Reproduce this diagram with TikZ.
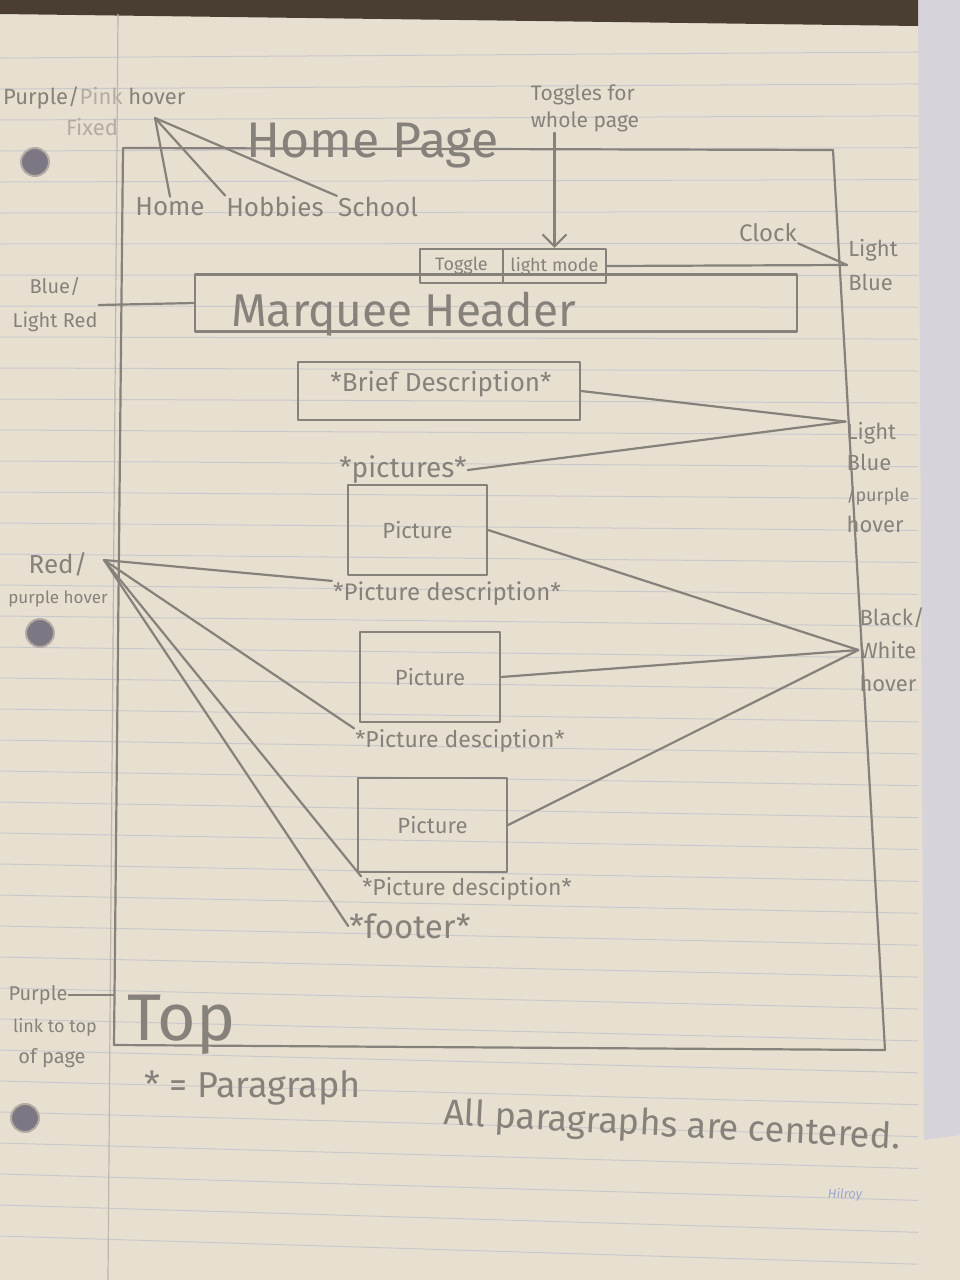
\documentclass[tikz,border=0pt]{standalone}
\usepackage{fontspec}
\usepackage{graphicx}
\setmainfont{Fira Sans}
\usetikzlibrary{arrows.meta}

\definecolor{paper}{HTML}{E7E0D1}
\definecolor{ruleline}{HTML}{C9C8CC}
\definecolor{margin}{HTML}{BEB6AF}
\definecolor{pencil}{HTML}{86817A}
\definecolor{faint}{HTML}{B4ACA4}
\definecolor{strip}{HTML}{D6D3DA}
\definecolor{holec}{HTML}{7C7782}
\definecolor{hilroy}{HTML}{9DAACB}
\definecolor{backdrop}{HTML}{4A3E32}

\newcommand{\hw}[1]{\fontsize{#1}{#1}\selectfont}

\tikzset{
  sk/.style={draw=pencil, line width=2.2pt, line cap=round, line join=round},
  lbl/.style={text=pencil, inner sep=1pt, align=center, font=\hw{22}},
  pbox/.style={sk, inner sep=0pt},
  cell/.style={sk, inner sep=0pt, text=pencil, font=\hw{18}},
  hole/.style={fill=holec, draw=faint, line width=2pt}
}

\begin{document}
\begin{tikzpicture}[x=1pt, y=-1pt]
\useasboundingbox (0,0) rectangle (960,1280);

% sheet, backdrop and binder holes
\fill[paper] (0,0) rectangle (960,1280);
\fill[strip] (918,0) -- (960,0) -- (960,1135) -- (924,1140) -- cycle;
\fill[backdrop] (0,0) -- (918,0) -- (918,26) -- (0,14) -- cycle;
\foreach \i in {0,...,38} {
  \draw[ruleline, line width=1pt] (0,{58+31*\i}) -- (918,{58+31*\i-6+0.9*\i});
}
\draw[margin, line width=1.2pt] (118,14) -- (108,1280);
\draw[hole] (35,162) circle (14);
\draw[hole] (40,633) circle (14);
\draw[hole] (25,1118) circle (14);

% page outline
\coordinate (pgTL) at (123,148);
\coordinate (pgTR) at (833,150);
\coordinate (pgBR) at (885,1050);
\coordinate (pgBL) at (114,1045);
\draw[sk] (pgTL) -- (pgTR) -- (pgBR) -- (pgBL) -- cycle;
\node[lbl, font=\hw{50}, anchor=base west] (title) at (245,157) {Home Page};

% navigation
\node[lbl, anchor=west] (pph) at (2,98) {Purple/\textcolor{faint}{Pink} hover};
\node[lbl, text=faint] (fixed) at (92,127) {Fixed};
\coordinate (hov) at (155,118);
\node[lbl, font=\hw{26}] (nhome) at (170,207) {Home};
\node[lbl, font=\hw{26}] (nhob) at (275,207) {Hobbies};
\node[lbl, font=\hw{26}] (nsch) at (378,207) {School};
\draw[sk] (hov) -- (nhome.north);
\draw[sk] (hov) -- (nhob.north west);
\draw[sk] (hov) -- (nsch.north west);

% light mode toggle and clock
\node[lbl, align=left, font=\fontsize{21}{27}\selectfont] (tog) at (585,108) {Toggles for\\whole page};
\node[cell, minimum width=83, minimum height=34] (tgl) at (461.5,266) {Toggle};
\node[cell, minimum width=103, minimum height=34] (lm) at (554.5,266) {light mode};
\draw[sk, -{Straight Barb[length=12pt, width=24pt]}] (tog.south -| lm.north) -- (lm.north);
\node[lbl, font=\hw{24}] (clock) at (768,233) {Clock};
\node[lbl, align=left, font=\fontsize{22}{34}\selectfont] (lb1) at (873,265) {Light\\Blue};
\draw[sk] (clock.south east) -- (lb1.west);
\draw[sk] (lm.east) -- (lb1.west);

% marquee header
\node[pbox, minimum width=602, minimum height=57] (mq) at (496,303) {};
\node[lbl, font=\hw{46}, anchor=west] (mqt) at (230,314) {Marquee Header};
\node[lbl, font=\fontsize{20}{34}\selectfont] (blr) at (55,305) {Blue/\\Light Red};
\draw[sk] (blr.east) -- (mq.west);

% brief description
\node[pbox, minimum width=282, minimum height=58] (brief) at (439,391) {};
\node[lbl, font=\hw{26}] (brieft) at (441,384) {*Brief Description*};
\node[lbl, font=\hw{28}] (pics) at (403,470) {*pictures*};
\node[lbl, align=left, font=\fontsize{22}{31}\selectfont] (lbp) at (878,478) {Light\\Blue\\{\hw{18}/purple}\\hover};
\draw[sk] (brief.east) -- (lbp.north west);
\draw[sk] (pics.east) -- (lbp.north west);

% pictures with their descriptions
\node[pbox, minimum width=139, minimum height=90, text=pencil, font=\hw{22}] (p1) at (417.5,530) {Picture};
\node[pbox, minimum width=140, minimum height=90, text=pencil, font=\hw{22}] (p2) at (430,677) {Picture};
\node[pbox, minimum width=149, minimum height=94, text=pencil, font=\hw{22}] (p3) at (432.5,825) {Picture};
\node[lbl, font=\hw{24}] (d1) at (447,594) {*Picture description*};
\node[lbl, font=\hw{23}] (d2) at (460,741) {*Picture desciption*};
\node[lbl, font=\hw{23}] (d3) at (467,889) {*Picture desciption*};
\node[lbl, font=\hw{33}] (foot) at (410,926) {*footer*};

\node[lbl, align=left, font=\fontsize{22}{33}\selectfont] (bw) at (892,650) {Black/\\White\\hover};
\draw[sk] (p1.east) -- (bw.west);
\draw[sk] (p2.east) -- (bw.west);
\draw[sk] (p3.east) -- (bw.west);

\node[lbl, font=\fontsize{17}{30}\selectfont] (red) at (58,580) {{\hw{26}Red/}\\purple hover};
\coordinate (redpt) at (104,560);
\draw[sk] (redpt) -- (d1.north west);
\draw[sk] (redpt) -- (d2.north west);
\draw[sk] (redpt) -- (d3.north west);
\draw[sk] (redpt) -- (foot.west);

% back-to-top link
\node[lbl, font=\hw{66}, anchor=base west] (topt) at (126,1040) {Top};
\node[lbl, font=\hw{20}] (purp) at (38,995) {Purple};
\node[lbl, font=\hw{18}] (lnk) at (55,1027) {link to top};
\node[lbl, font=\hw{20}] (ofp) at (52,1058) {of page};
\draw[sk] (purp.east) -- (purp.east -| pgBL);

% notes
\node[lbl, font=\hw{36}, anchor=west] (para) at (143,1088) {* = Paragraph};
\node[lbl, font=\hw{36}, rotate=-3] (allc) at (672,1127) {All paragraphs are centered.};
\node[text=hilroy, font=\itshape\hw{13}] (hil) at (845,1195) {Hilroy};
\end{tikzpicture}
\end{document}
